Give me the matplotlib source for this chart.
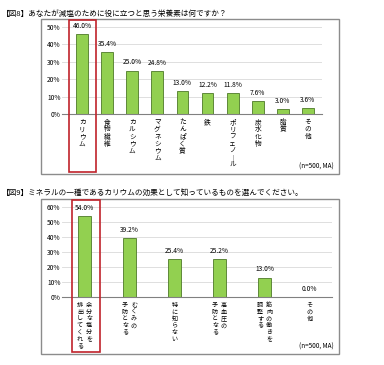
import matplotlib
matplotlib.use("Agg")
import matplotlib.pyplot as plt
from matplotlib.patches import Rectangle
from matplotlib.transforms import blended_transform_factory

plt.rcParams['font.family'] = ['Noto Sans CJK JP', 'DejaVu Sans']

W, H = 384, 365

# data
title1 = "【図8】あなたが減塩のために役に立つと思う栄養素は何ですか？"
cats1 = ["カリウム", "食物繊維", "カルシウム", "マグネシウム", "たんぱく質",
         "鉄", "ポリフェノール", "炭水化物", "脂質", "その他"]
vals1 = [46.0, 35.4, 25.0, 24.8, 13.0, 12.2, 11.8, 7.6, 3.0, 3.6]
yticks1 = [0, 10, 20, 30, 40, 50]

title2 = "【図9】ミネラルの一種であるカリウムの効果として知っているものを選んでください。"
cats2 = [["余分な塩分を", "排出してくれる"], ["むくみの", "予防となる"], ["特に知らない"],
         ["高血圧の", "予防となる"], ["筋肉の働きを", "調整する"], ["その他"]]
vals2 = [54.0, 39.2, 25.4, 25.2, 13.0, 0.0]
yticks2 = [0, 10, 20, 30, 40, 50, 60]

note = "(n=500, MA)"

GREEN = "#92D050"
EDGE = "#4E7A28"
RED = "#C0232B"
GRID = "#D9D9D9"


def px_rect(x0, y0, x1, y1):
    # pixel box (top-left origin) -> figure fraction [l, b, w, h]
    return [x0 / W, 1 - y1 / H, (x1 - x0) / W, (y1 - y0) / H]


def vert(s):
    return "\n".join("｜" if c == "ー" else c for c in s)


fig = plt.figure(figsize=(W / 100, H / 100), dpi=100)


def panel(title, title_y, frame, ax_box, cats, vals, yticks, xlim, width, red_box, two_col):
    fig.text(2 / W, 1 - title_y / H, title, fontsize=5.5, va='center', ha='left')
    fx0, fy0, fx1, fy1 = frame
    fig.patches.append(Rectangle((fx0 / W, 1 - fy1 / H), (fx1 - fx0) / W, (fy1 - fy0) / H,
                                 transform=fig.transFigure, fill=False,
                                 edgecolor="#8C8C8C", linewidth=1.0))
    ax = fig.add_axes(px_rect(*ax_box))
    x = list(range(len(vals)))
    ax.bar(x, vals, width=width, color=GREEN, edgecolor=EDGE, linewidth=0.6, zorder=3)
    ax.set_ylim(0, yticks[-1])
    ax.set_xlim(*xlim)
    ax.set_yticks(yticks)
    ax.set_yticklabels([f"{t}%" for t in yticks], fontsize=4.8)
    ax.set_xticks([])
    ax.tick_params(axis='y', length=0, pad=1)
    ax.grid(axis='y', color=GRID, linewidth=0.6, zorder=0)
    for s in ['top', 'right', 'left']:
        ax.spines[s].set_visible(False)
    ax.spines['bottom'].set_color("#808080")
    ax.spines['bottom'].set_linewidth(0.8)
    ax.spines['bottom'].set_zorder(4)
    for xi, v in zip(x, vals):
        ax.annotate(f"{v:.1f}%", (xi, v), xytext=(0, 3), textcoords='offset points',
                    ha='center', va='bottom', fontsize=4.8)
    tr = blended_transform_factory(ax.transData, ax.transAxes)
    off = 4.5 * (xlim[1] - xlim[0]) / (ax_box[2] - ax_box[0])
    for xi, c in zip(x, cats):
        if two_col:
            if len(c) == 1:
                ax.text(xi, -0.04, vert(c[0]), transform=tr, ha='center', va='top',
                        fontsize=4.4, linespacing=0.82)
            else:
                ax.text(xi + off, -0.04, vert(c[0]), transform=tr, ha='center', va='top',
                        fontsize=4.4, linespacing=0.82)
                ax.text(xi - off, -0.04, vert(c[1]), transform=tr, ha='center', va='top',
                        fontsize=4.4, linespacing=0.82)
        else:
            ax.text(xi, -0.05, vert(c), transform=tr, ha='center', va='top',
                    fontsize=4.8, linespacing=0.85)
    fig.text((fx1 - 5) / W, 1 - (fy1 - 7) / H, note, fontsize=4.6, ha='right', va='center')
    rx0, ry0, rx1, ry1 = red_box
    fig.patches.append(Rectangle((rx0 / W, 1 - ry1 / H), (rx1 - rx0) / W, (ry1 - ry0) / H,
                                 transform=fig.transFigure, fill=False,
                                 edgecolor=RED, linewidth=1.2, zorder=10))
    return ax


panel(title1, 14, (41, 19, 339, 174), (62, 27, 322, 114), cats1, vals1, yticks1,
      (-0.8, 9.56), 0.47, (69, 20, 96, 172), False)
panel(title2, 193, (41, 199, 339, 354), (62, 207, 332, 297), cats2, vals2, yticks2,
      (-0.5, 5.5), 0.3, (72, 200, 100, 352), True)

fig.savefig("out.png", dpi=100)
